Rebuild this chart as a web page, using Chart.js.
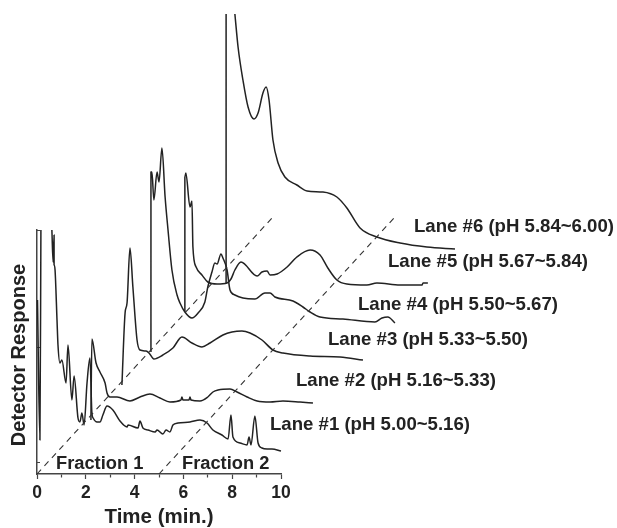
<!DOCTYPE html>
<html>
<head>
<meta charset="utf-8">
<style>
  html, body { margin: 0; padding: 0; background: #fff; }
  canvas { display: block; }
</style>
<script src="https://cdn.jsdelivr.net/npm/chart.js@4"></script>
</head>
<body>
<canvas id="chart" width="617" height="528"></canvas>
<script>
// traces are already shifted for the waterfall, so time runs past 10 on purpose
const lane1Time = [0.02,0.12,0.16,0.16,0.61,0.66,0.70,0.70,0.74,0.82,0.86,0.94,1.02,1.19,1.27,1.43,1.52,1.68,1.76,1.84,1.93,2.05,2.17,2.25,2.30,2.46,2.58,2.70,2.87,3.11,3.40,3.69,3.73,4.14,4.22,4.34,4.55,4.84,4.92,5.16,5.29,5.45,5.57,5.78,6.27,6.68,6.97,7.21,7.58,7.83,7.95,8.03,8.32,8.61,8.69,8.77,8.93,9.06,9.22,9.43,9.63,10.0];
const lane1Resp = [174,34,244,null,244,212,239,209,204,154,129,111,114,91,129,74,98,56,52,61,49,91,116,61,56,52,52,59,68,64,53,47,49,46,53,46,44,42,44,40,44,42,49,51,52,54,51,44,39,35,59,37,31,29,37,29,58,31,26,25,25,23];

const lane2Time = [2.21,2.25,2.42,2.58,2.79,2.87,2.99,3.28,3.81,4.22,4.63,5.04,5.45,5.90,5.94,5.98,6.23,6.27,6.31,6.68,7.00,7.21,7.42,7.91,8.20,8.61,9.02,9.55,10.08,10.78,11.31];
const lane2Resp = [54,135,111,102,91,81,77,77,73,77,80,76,72,74,77,74,74,77,74,73,77,82,84,85,82,77,73,72,73,72,71];

const lane3Time = [3.48,3.61,3.69,3.81,3.93,4.10,4.22,4.47,4.59,4.79,5.16,5.57,5.94,6.35,6.76,7.09,7.62,7.99,8.40,8.73,9.22,9.67,10.08,11.19,12.42,13.36];
const lane3Resp = [89,161,171,226,187,134,124,123,121,115,119,126,137,131,127,131,139,142,143,141,134,124,121,118,117,114];

const lane4Time = [4.67,4.67,4.71,4.79,4.92,5.00,5.12,5.25,5.37,5.53,5.74,5.86,6.06,6.35,6.60,6.88,7.00,7.17,7.29,7.38,7.54,7.62,7.79,7.91,8.11,8.44,8.93,9.34,9.55,9.75,10.49,10.90,11.19,11.60,12.54,13.85,14.14,14.38,14.67];
const lane4Resp = [122,302,302,274,302,292,326,277,244,204,179,171,162,156,161,172,187,202,211,210,220,216,204,184,179,176,175,181,181,177,173,167,162,157,155,152,156,157,151];

const lane5Time = [6.06,6.06,6.10,6.27,6.35,6.39,6.52,6.76,7.00,7.38,7.79,7.95,8.11,8.36,9.02,9.22,9.43,9.55,9.84,10.25,10.65,11.19,11.60,11.92,12.29,12.70,13.52,13.93,14.88,15.78,15.82,16.02];
const lane5Resp = [162,297,301,267,273,227,207,199,192,190,191,195,204,212,198,202,203,199,200,207,217,224,219,206,194,190,189,191,189,189,191,191];

const lane6Time = [7.75,7.75,7.75,8.11,8.24,8.44,8.65,8.89,9.06,9.26,9.39,9.51,9.67,9.88,10.16,10.65,11.07,11.72,12.29,12.70,13.24,13.93,14.88,15.98,17.13];
const lane6Resp = [191,460,null,460,427,394,367,355,361,381,387,374,334,311,297,289,283,282,277,266,246,237,231,227,225];

const fractionLine1Time = [0, 9.67];
const fractionLine2Time = [5, 14.67];
const fractionLineResp = [0, 257];

const laneNames = ['Lane #1 (pH 5.00~5.16)','Lane #2 (pH 5.16~5.33)','Lane #3 (pH 5.33~5.50)','Lane #4 (pH 5.50~5.67)','Lane #5 (pH 5.67~5.84)','Lane #6 (pH 5.84~6.00)'];
const fractionNames = ['Fraction 1','Fraction 2'];
const xTicks = [0,2,4,6,8,10];
const yTicks = [12,127,244];

const FONT = '"Liberation Sans", Arial, sans-serif';
const INK = '#222';

function pairs(xs, ys) {
  return xs.map((x, i) => ({ x: x, y: ys[i] }));
}

function trace(xs, ys) {
  return {
    data: pairs(xs, ys),
    borderColor: INK,
    borderWidth: 1.5,
    borderJoinStyle: 'round',
    pointRadius: 0,
    cubicInterpolationMode: 'monotone',
    clip: false
  };
}

function dashed(xs, ys) {
  return { data: pairs(xs, ys), borderColor: '#333', borderWidth: 1.1, borderDash: [6, 5], pointRadius: 0, clip: false };
}

// lane names, fraction names and the rotated y title
const textPlugin = {
  id: 'textPlugin',
  afterDraw(chart) {
    const c = chart.ctx;
    c.save();
    c.fillStyle = INK;
    c.textBaseline = 'middle';
    c.textAlign = 'left';
    c.font = 'bold 18.6px ' + FONT;
    const laneX = [270, 296, 328, 358, 388, 414];
    const laneY = [425, 381, 340, 305, 262, 227];
    laneNames.forEach((t, i) => c.fillText(t, laneX[i], laneY[i]));
    c.font = 'bold 18.3px ' + FONT;
    c.fillText(fractionNames[0], 56, 464);
    c.fillText(fractionNames[1], 182, 464);
    c.translate(19, 355);
    c.rotate(-Math.PI / 2);
    c.textAlign = 'center';
    c.font = 'bold 20px ' + FONT;
    c.fillText('Detector Response', 0, 0);
    c.restore();
  }
};

new Chart(document.getElementById('chart'), {
  type: 'line',
  data: {
    datasets: [
      dashed(fractionLine1Time, fractionLineResp),
      dashed(fractionLine2Time, fractionLineResp),
      trace(lane1Time, lane1Resp),
      trace(lane2Time, lane2Resp),
      trace(lane3Time, lane3Resp),
      trace(lane4Time, lane4Resp),
      trace(lane5Time, lane5Resp),
      trace(lane6Time, lane6Resp)
    ]
  },
  options: {
    responsive: false,
    animation: false,
    layout: { padding: { top: 230, right: 336, bottom: 0, left: 0 } },
    plugins: { legend: { display: false }, tooltip: { enabled: false } },
    scales: {
      x: {
        type: 'linear',
        // not min/max in the options, those would cut the points past 10
        afterDataLimits: s => { s.min = 0; s.max = 10; },
        afterFit: s => { s.height = 54; },
        border: { color: '#444', width: 1.5 },
        grid: {
          drawOnChartArea: false,
          tickLength: 5,
          tickColor: '#444',
          tickWidth: 1.2,
          tickBorderDash: ctx => (xTicks.includes(ctx.tick.value) ? [] : [3, 100])
        },
        ticks: {
          stepSize: 1,
          autoSkip: false,
          maxRotation: 0,
          padding: 4,
          color: INK,
          font: { family: FONT, size: 17.5, weight: 'bold' },
          callback: v => (xTicks.includes(v) ? String(v) : '')
        },
        title: {
          display: true,
          text: 'Time (min.)',
          color: INK,
          padding: { top: 3, bottom: 0 },
          font: { family: FONT, size: 20.5, weight: 'bold', lineHeight: 1 }
        }
      },
      y: {
        min: 0,
        max: 244,
        afterBuildTicks: s => { s.ticks = yTicks.map(v => ({ value: v })); },
        afterFit: s => { s.width = 37; },
        border: { color: '#444', width: 1.5 },
        grid: { drawOnChartArea: false, tickLength: -3, tickColor: '#444' },
        ticks: { display: false }
      }
    }
  },
  plugins: [textPlugin]
});
</script>
</body>
</html>
